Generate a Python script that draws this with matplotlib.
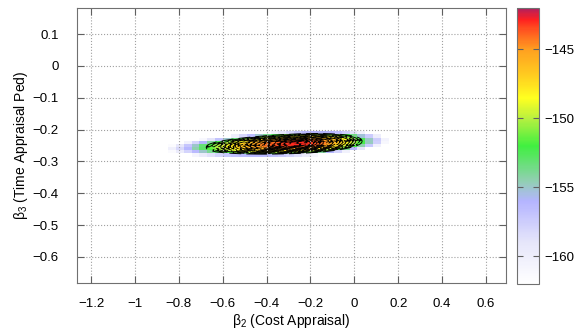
import numpy as np
import matplotlib
matplotlib.use('Agg')
from matplotlib import pyplot as plt
from matplotlib.colors import LinearSegmentedColormap

plt.rcParams['font.family'] = ['Liberation Sans', 'DejaVu Sans']
plt.rcParams['mathtext.default'] = 'regular'

# log-likelihood surface (quadratic, longer tail to the left)
peak_ll = -142.9
center_b2 = -0.25
center_b3 = -0.244
sd_left = 0.099
sd_right = 0.066
sd_minor = 0.0064
tilt_slope = 0.028

# heatmap grid (gnuplot pm3d look, coarse cells)
grid_b2 = np.arange(-1.30, 0.72, 0.036)
grid_b3 = np.arange(-0.70, 0.20, 0.01)

# contour levels, outermost first
contour_levels = [-151.9, -150.98, -150.1, -149.28, -148.51, -147.79, -147.11, -146.49,
                  -145.92, -145.39, -144.92, -144.5, -144.12, -143.8, -143.52, -143.3,
                  -143.12, -143.0]

xticks = [-1.2, -1.0, -0.8, -0.6, -0.4, -0.2, 0.0, 0.2, 0.4, 0.6]
xlabels = ['\u22121.2', '\u22121', '\u22120.8', '\u22120.6', '\u22120.4', '\u22120.2', '0', '0.2', '0.4', '0.6']
yticks = [0.1, 0.0, -0.1, -0.2, -0.3, -0.4, -0.5, -0.6]
ylabels = ['0.1', '0', '\u22120.1', '\u22120.2', '\u22120.3', '\u22120.4', '\u22120.5', '\u22120.6']
cticks = [-145, -150, -155, -160]
clabels = ['\u2212145', '\u2212150', '\u2212155', '\u2212160']

# palette
cvals = [-162, -159, -156, -154.5, -152, -150, -148.5, -147, -145, -143.5, -142.8, -142]
ccols = ['#ffffff', '#e6e6fa', '#b4b4ff', '#90d0b0', '#40f040', '#b8f040',
         '#ffff20', '#ffd020', '#ffa020', '#ff5020', '#ff2020', '#b02060']
vmin, vmax = -162, -142
cmap = LinearSegmentedColormap.from_list(
    'pal', [((v - vmin) / (vmax - vmin), c) for v, c in zip(cvals, ccols)])
cmap.set_under('white')


def loglik(b2, b3):
    ang = np.arctan(tilt_slope)
    u = (b2 - center_b2) * np.cos(ang) + (b3 - center_b3) * np.sin(ang)
    v = -(b2 - center_b2) * np.sin(ang) + (b3 - center_b3) * np.cos(ang)
    su = np.where(u < 0, sd_left, sd_right)
    return peak_ll - 0.5 * ((u / su) ** 2 + (v / sd_minor) ** 2)


X, Y = np.meshgrid(grid_b2, grid_b3)
LL = loglik(X, Y)

# finer grid for the contour lines
FX, FY = np.meshgrid(np.linspace(-1.0, 0.4, 1200), np.linspace(-0.32, -0.17, 700))
FLL = loglik(FX, FY)

fig = plt.figure(figsize=(5.83, 3.36), dpi=100)
ax = fig.add_axes([77 / 583, 53 / 336, 429 / 583, 275 / 336])
cax = fig.add_axes([517 / 583, 52 / 336, 22 / 583, 276 / 336])

mesh = ax.pcolormesh(X, Y, LL, cmap=cmap, vmin=vmin, vmax=vmax, shading='nearest')
# each level black then coloured, outer first, so inner lines cover outer ones
for lev in contour_levels:
    ax.contour(FX, FY, FLL, levels=[lev], colors='black', linewidths=2.3)
    ax.contour(FX, FY, FLL, levels=[lev], colors=[cmap((lev - vmin) / (vmax - vmin))],
               linewidths=1.0)

ax.set_xlim(-1.264, 0.691)
ax.set_ylim(-0.682, 0.182)
ax.set_xticks(xticks)
ax.set_xticklabels(xlabels)
ax.set_yticks(yticks)
ax.set_yticklabels(ylabels)
ax.grid(True, linestyle=':', color='#a0a0a0', linewidth=0.8)
ax.set_axisbelow(False)
ax.tick_params(direction='in', top=True, right=True, length=5, labelsize=9.5,
               color='#606060', pad=11)
ax.tick_params(axis='y', pad=13)
for s in ax.spines.values():
    s.set_color('#707070')
ax.set_xlabel('β$_2$ (Cost Appraisal)', fontsize=10, labelpad=1)
ax.set_ylabel('β$_3$ (Time Appraisal Ped)', fontsize=10, labelpad=2)

cb = fig.colorbar(mesh, cax=cax)
cb.set_ticks(cticks)
cb.set_ticklabels(clabels)
cb.outline.set_edgecolor('#707070')
cax.tick_params(direction='in', left=True, right=True, length=4, labelsize=9.5,
                color='#606060', pad=4)

fig.savefig('out.png', dpi=100)
